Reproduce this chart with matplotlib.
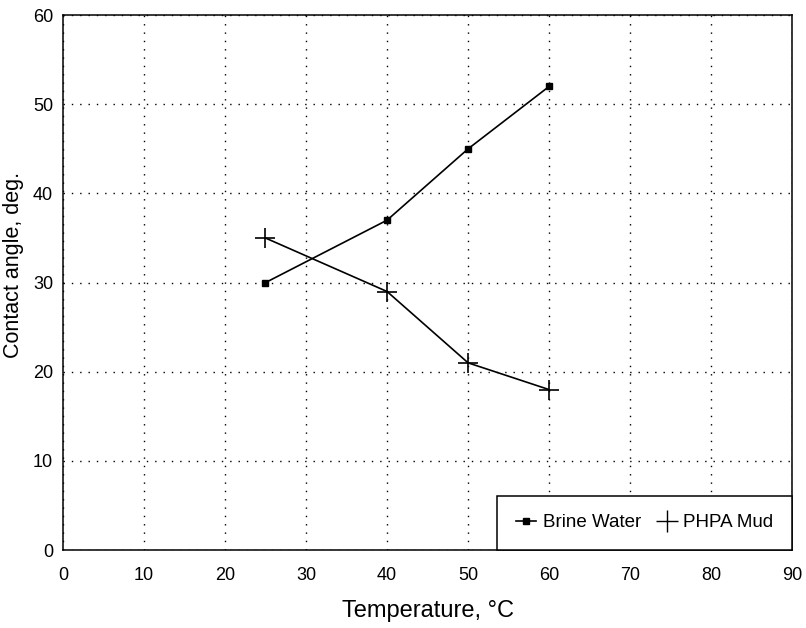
import matplotlib.pyplot as plt

plt.rcParams['font.family'] = ['Liberation Sans', 'DejaVu Sans']

# температура, °C
temp = [25, 40, 50, 60]
# краевой угол, град.
brine_water = [30, 37, 45, 52]
phpa_mud = [35, 29, 21, 18]

x_ticks = list(range(0, 91, 10))
y_ticks = list(range(0, 61, 10))

fig = plt.figure(figsize=(8.06, 6.28), dpi=100)
ax = fig.add_axes([0.078, 0.124, 0.905, 0.852])

ax.plot(temp, brine_water, color='black', lw=1.2, marker='s', markersize=4,
        label='Brine Water')
ax.plot(temp, phpa_mud, color='black', lw=1.2, marker='+', markersize=15,
        markeredgewidth=1.2, label='PHPA Mud')

ax.set_xlim(0, 90)
ax.set_ylim(0, 60)
ax.set_xticks(x_ticks)
ax.set_yticks(y_ticks)
ax.tick_params(labelsize=13, length=0)
ax.tick_params(axis='x', pad=12)
ax.tick_params(axis='y', pad=7)
ax.grid(True, color='black', linestyle=(0, (1, 5)), lw=1.0)
for s in ax.spines.values():
    s.set_linewidth(1.1)

ax.set_xlabel('Temperature, °C', fontsize=17, labelpad=12)
ax.set_ylabel('Contact angle, deg.', fontsize=15.5)
ax.yaxis.set_label_coords(-0.053, 0.533)

# легенда: маркер для Brine Water с линией, для PHPA — только крест
h1, = ax.plot([], [], color='black', lw=1.2, marker='s', markersize=4)
h2, = ax.plot([], [], color='black', lw=0, marker='+', markersize=16,
              markeredgewidth=1.0)
leg = ax.legend([h1, h2], ['Brine Water', 'PHPA Mud'], loc='lower right',
                ncol=2, fontsize=13.5, frameon=True, fancybox=False,
                edgecolor='black', framealpha=1, borderaxespad=0,
                borderpad=1.0, handlelength=1.1, handletextpad=0.35,
                columnspacing=0.8, markerscale=1)
leg.get_frame().set_linewidth(1.1)

fig.savefig('out.png', dpi=100)
